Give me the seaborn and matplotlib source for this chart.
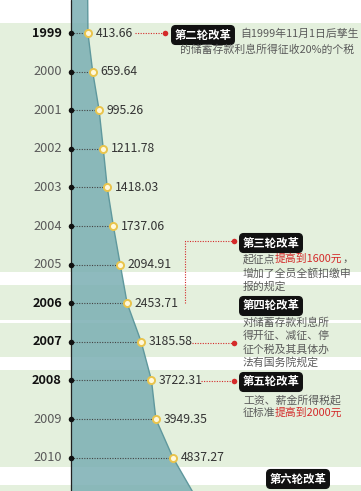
import matplotlib
matplotlib.use("Agg")
import matplotlib.pyplot as plt
import seaborn as sns
import pandas as pd

# ---------------- data ----------------
years = [1999, 2000, 2001, 2002, 2003, 2004, 2005, 2006, 2007, 2008, 2009, 2010]
values = [413.66, 659.64, 995.26, 1211.78, 1418.03, 1737.06, 2094.91,
          2453.71, 3185.58, 3722.31, 3949.35, 4837.27]
value_labels = ["413.66", "659.64", "995.26", "1211.78", "1418.03", "1737.06",
                "2094.91", "2453.71", "3185.58", "3722.31", "3949.35", "4837.27"]
bold_years = [1999, 2006, 2007, 2008]
# area continues past the first and last year
area_years = [1998.1] + years + [2010.9]
area_values = [400] + values + [5880]
baseline = -470

reform_titles = ["第二轮改革", "第三轮改革", "第四轮改革", "第五轮改革", "第六轮改革"]

df = pd.DataFrame({"year": years, "value": values})

# ---------------- style ----------------
sns.set_theme(style="white")
plt.rcParams["font.family"] = ["Noto Sans CJK SC", "DejaVu Sans"]
plt.rcParams["axes.unicode_minus"] = False

W, H = 361, 491
fig = plt.figure(figsize=(W / 100, H / 100), dpi=100)
ax = fig.add_axes([0, 0, 1, 1])
ax.set_xlim(-4164, 14628)
ax.set_ylim(2010.865, 1998.145)
ax.axis("off")
fig.patch.set_facecolor("white")

GREEN = "#e4f0dd"
RED = "#d42a2a"
GRAY = "#5a5a5a"


def P(x, y):
    return (x / W, 1 - y / H)


# background bands (pixel rows)
for y0, y1 in [(23, 272), (285, 320), (323, 357), (370, 467), (485, 491)]:
    ax.axhspan(1999 + (y0 - 33) / 38.6, 1999 + (y1 - 33) / 38.6,
               color=GREEN, lw=0, zorder=0)

# area
ax.fill_betweenx(area_years, baseline, area_values, color="#7aaeb3",
                 alpha=0.85, lw=0, zorder=1)
sns.lineplot(x=area_values, y=area_years, orient="y", sort=False, ax=ax,
             color="#5f989d", lw=1.0, zorder=2)
ax.axvline(baseline, color="#222222", lw=0.9, zorder=3)

# dotted leaders
for yr, v in zip(years, values):
    ax.plot([baseline, v], [yr, yr], color="#444444", lw=0.8,
            ls=(0, (1, 1.3)), zorder=3)

sns.scatterplot(data=df, x=[baseline] * len(years), y="year", ax=ax,
                color="#111111", s=16, linewidth=0, zorder=4)
sns.scatterplot(data=df, x="value", y="year", ax=ax, facecolor="#fff8dc",
                edgecolor="#e9c44c", s=26, linewidth=1.4, zorder=5)

# labels
for yr, v, lab in zip(years, values, value_labels):
    b = yr in bold_years
    ax.annotate(str(yr), (baseline, yr), xytext=(-6.5, 0),
                textcoords="offset points", ha="right", va="center",
                fontsize=9.2, fontweight="bold" if b else "normal",
                color="#111111" if b else GRAY, zorder=6)
    ax.annotate(lab, (v, yr), xytext=(5.5, 0), textcoords="offset points",
                ha="left", va="center", fontsize=8.8, color="#333333",
                zorder=6)

# reform boxes
box_kw = dict(boxstyle="round,pad=0.25,rounding_size=0.35", fc="#111111",
              ec="#111111")
box_pos = [(203, 35), (271, 243), (271, 306), (271, 382), (298, 479)]
for t, (x, y) in zip(reform_titles, box_pos):
    ax.text(*P(x, y), t, transform=ax.transAxes, ha="center", va="center",
            fontsize=8.2, fontweight="bold", color="white", bbox=box_kw,
            zorder=8)

# red connectors
def red_line(xs, ys):
    ax.plot([x / W for x in xs], [1 - y / H for y in ys],
            transform=ax.transAxes, color=RED, lw=0.8, ls=(0, (1, 1.3)),
            zorder=7)

def red_dot(x, y):
    ax.scatter([x / W], [1 - y / H], transform=ax.transAxes, color=RED,
               s=16, linewidth=0, zorder=8)

red_line([135, 165], [33, 33]); red_dot(165, 33)
red_line([185, 185, 234], [303, 241, 241]); red_dot(234, 241)
red_line([192, 234], [343, 343]); red_dot(234, 343)
red_line([201, 234], [381, 381]); red_dot(234, 381)

DESC = 7.8
# reform 2 text
ax.text(*P(240, 34), "自1999年11月1日后孳生", transform=ax.transAxes,
        ha="left", va="center", fontsize=DESC, color=GRAY, zorder=8)
ax.text(*P(180, 50), "的储蓄存款利息所得征收20%的个税", transform=ax.transAxes,
        ha="left", va="center", fontsize=DESC, color=GRAY, zorder=8)

# reform 3 text (with red part)
t1 = ax.text(*P(243, 259), "起征点", transform=ax.transAxes, ha="left",
             va="center", fontsize=DESC, color=GRAY, zorder=8)
t2 = ax.annotate("提高到1600元", xycoords=t1, xy=(1, 0.5), xytext=(-1.0, 0),
                 textcoords="offset points", va="center", ha="left",
                 fontsize=DESC, color=RED, zorder=8)
ax.annotate("，", xycoords=t2, xy=(1, 0.5), xytext=(0.5, 0),
            textcoords="offset points", va="center", ha="left",
            fontsize=DESC, color=GRAY, zorder=8)
for i, line in enumerate(["增加了全员全额扣缴申", "报的规定"]):
    ax.text(*P(243, 273 + 14 * i), line, transform=ax.transAxes, ha="left",
            va="center", fontsize=DESC, color=GRAY, zorder=8)

# reform 4 text
for i, line in enumerate(["对储蓄存款利息所", "得开征、减征、停",
                          "征个税及其具体办", "法有国务院规定"]):
    ax.text(*P(243, 323 + 13.2 * i), line, transform=ax.transAxes,
            ha="left", va="center", fontsize=DESC, color=GRAY, zorder=8)

# reform 5 text
ax.text(*P(243, 400), "工资、薪金所得税起", transform=ax.transAxes,
        ha="left", va="center", fontsize=DESC, color=GRAY, zorder=8)
t3 = ax.text(*P(243, 413), "征标准", transform=ax.transAxes, ha="left",
             va="center", fontsize=DESC, color=GRAY, zorder=8)
ax.annotate("提高到2000元", xycoords=t3, xy=(1, 0.5), xytext=(-1.0, 0),
            textcoords="offset points", va="center", ha="left",
            fontsize=DESC, color=RED, zorder=8)

fig.savefig("out.png", dpi=100)
